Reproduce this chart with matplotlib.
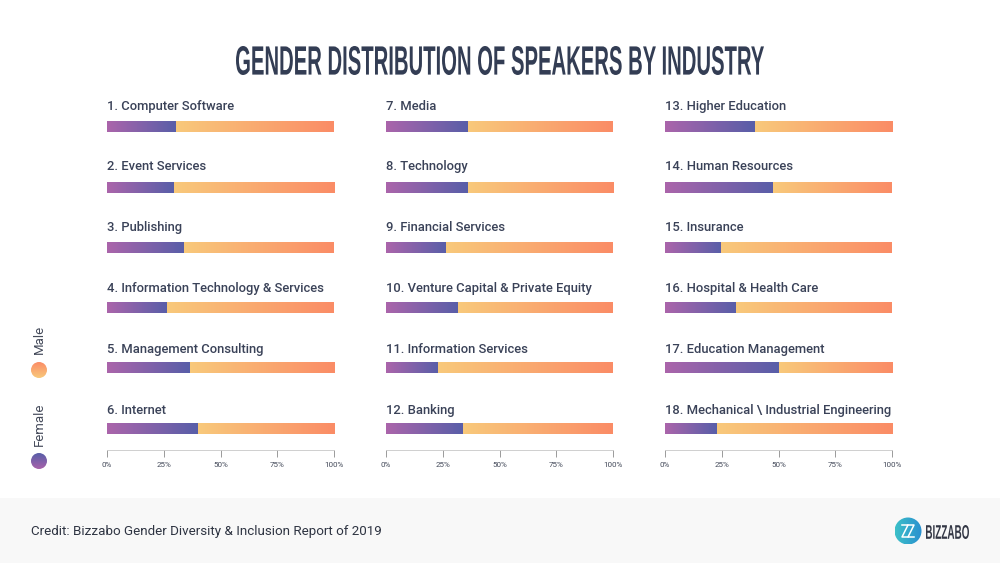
import matplotlib
matplotlib.use("Agg")
import matplotlib.pyplot as plt
import numpy as np
from matplotlib.colors import LinearSegmentedColormap, to_rgba
from matplotlib.patches import Circle, Rectangle
from matplotlib.text import Text
from matplotlib.textpath import TextPath
from matplotlib.transforms import Affine2D, Bbox

plt.rcParams["font.family"] = ["Roboto", "DejaVu Sans"]

TITLE = "GENDER DISTRIBUTION OF SPEAKERS BY INDUSTRY"
CREDIT = "Credit: Bizzabo Gender Diversity & Inclusion Report of 2019"

labels_1 = ["1. Computer Software", "2. Event Services", "3. Publishing",
            "4. Information Technology & Services", "5. Management Consulting", "6. Internet"]
labels_2 = ["7. Media", "8. Technology", "9. Financial Services",
            "10. Venture Capital & Private Equity", "11. Information Services", "12. Banking"]
labels_3 = ["13. Higher Education", "14. Human Resources", "15. Insurance",
            "16. Hospital & Health Care", "17. Education Management",
            "18. Mechanical \\ Industrial Engineering"]

female_1 = [30.5, 29.5, 34, 26.5, 36.5, 40]
female_2 = [36.2, 36, 26.5, 31.8, 23, 34]
female_3 = [39.6, 47.6, 24.7, 31.3, 50.2, 22.9]

ticks = [0, 25, 50, 75, 100]

TEXT = "#3a4258"
female_cmap = LinearSegmentedColormap.from_list("female", ["#ab65ab", "#585ea8"])
male_cmap = LinearSegmentedColormap.from_list("male", ["#f8c97b", "#fb8c66"])
grad = np.linspace(0, 1, 256).reshape(1, -1)
W, H = 1000, 563


class TallText(Text):
    """Text stretched to a given pixel box, no condensed font is installed."""

    def __init__(self, *args, width_px=100, height_px=20, **kwargs):
        super().__init__(*args, **kwargs)
        self.width_px = width_px
        self.height_px = height_px

    def _layout_path(self):
        size = self.get_fontsize() * self.figure.dpi / 72
        tp = TextPath((0, 0), self.get_text(), size=size, prop=self.get_fontproperties())
        bb = tp.get_extents()
        x, y = self.get_transform().transform(self.get_position())
        tr = (Affine2D().translate(-bb.x0 - bb.width / 2, -bb.y0 - bb.height / 2)
              .scale(self.width_px / bb.width, self.height_px / bb.height).translate(x, y))
        return tp, tr

    def draw(self, renderer):
        tp, tr = self._layout_path()
        gc = renderer.new_gc()
        gc.set_linewidth(0)
        renderer.draw_path(gc, tp, tr, rgbFace=to_rgba(self.get_color()))
        gc.restore()

    def get_window_extent(self, renderer=None, dpi=None):
        tp, tr = self._layout_path()
        return Bbox(tr.transform(tp.get_extents().get_points()))


def gradient_bar(ax, x0, x1, y, cmap, height=0.166):
    ax.imshow(grad, cmap=cmap, aspect="auto", interpolation="bilinear",
              extent=(x0, x1, y + height / 2, y - height / 2), zorder=2)


def draw_column(left, labels, female):
    ax = fig.add_axes([left / W, 1 - 449.5 / H, 227 / W, (449.5 - 97.2) / H])
    for i, (label, val) in enumerate(zip(labels, female)):
        gradient_bar(ax, 0, val, i, female_cmap)
        gradient_bar(ax, val, 100, i, male_cmap)
        # labels sit on a slightly wider pitch than the bars in the original
        ax.text(0, i * 1.0116 - 0.354, label, color=TEXT, fontsize=9.4, va="center", ha="left",
                fontweight="medium", zorder=3)
    ax.set_xlim(0, 100)
    ax.set_ylim(5.344, -0.5)
    ax.patch.set_alpha(0)
    ax.set_yticks([])
    ax.xaxis.tick_bottom()
    ax.xaxis.set_tick_params(direction="out", length=5, width=0.7, color="#9a9a9a",
                             pad=4, labelsize=5.8, labelcolor="#444a5a")
    ax.set_xticks(ticks)
    ax.set_xticklabels([f"{t}%" for t in ticks])
    for side in ["top", "left", "right"]:
        ax.spines[side].set_visible(False)
    ax.spines["bottom"].set_color("#c8c8c8")
    ax.spines["bottom"].set_linewidth(0.6)
    return ax


fig = plt.figure(figsize=(10, 5.63), dpi=100, facecolor="white")

# page level overlay in pixel coordinates (footer, legend, logo)
page = fig.add_axes([0, 0, 1, 1], zorder=0)
page.set_xlim(0, W)
page.set_ylim(H, 0)
page.axis("off")
page.add_patch(Rectangle((0, 498), W, 65, color="#f8f8f8", lw=0))


def gradient_dot(cx, cy, r, cmap, vertical=True):
    g = grad.T if vertical else grad
    im = page.imshow(g, cmap=cmap, aspect="auto", extent=(cx - r, cx + r, cy + r, cy - r),
                     interpolation="bilinear", zorder=2)
    im.set_clip_path(Circle((cx, cy), r, transform=page.transData))


legend_female = LinearSegmentedColormap.from_list("lf", ["#585ea8", "#a862aa"])
legend_male = LinearSegmentedColormap.from_list("lm", ["#fb8c66", "#f8c97b"])
gradient_dot(39, 370, 8, legend_male)
gradient_dot(39, 461, 8, legend_female)
page.text(39.5, 339, "Male", rotation=90, ha="center", va="center", fontsize=9.5, color="#444a5a")
page.text(39.5, 424, "Female", rotation=90, ha="center", va="center", fontsize=9.5, color="#444a5a")

logo_cmap = LinearSegmentedColormap.from_list("logo", ["#3cc0c8", "#2a8fd0"])
gradient_dot(908, 531, 13.5, logo_cmap, vertical=False)
page.plot([902, 908, 902, 908], [525, 525, 537, 537], color="white", lw=1.1, zorder=3)
page.plot([908, 914, 908, 914], [525, 525, 537, 537], color="white", lw=1.1, zorder=3)
page.set_xlim(0, W)
page.set_ylim(H, 0)

page.add_artist(TallText(947.5, 532, "BIZZABO", width_px=43, height_px=14, fontsize=6.5,
                         fontweight="bold", color="#333745", family="Liberation Sans",
                         transform=page.transData))
page.text(31, 531, CREDIT, ha="left", va="center", fontsize=9.6, color="#2e3442")
page.add_artist(TallText(500, 60.5, TITLE, width_px=528, height_px=29, fontsize=13,
                         fontweight="bold", color="#333d54", family="Liberation Sans",
                         transform=page.transData))

draw_column(107, labels_1, female_1)
draw_column(386, labels_2, female_2)
draw_column(665, labels_3, female_3)

fig.savefig("out.png", dpi=100)
plt.close(fig)
